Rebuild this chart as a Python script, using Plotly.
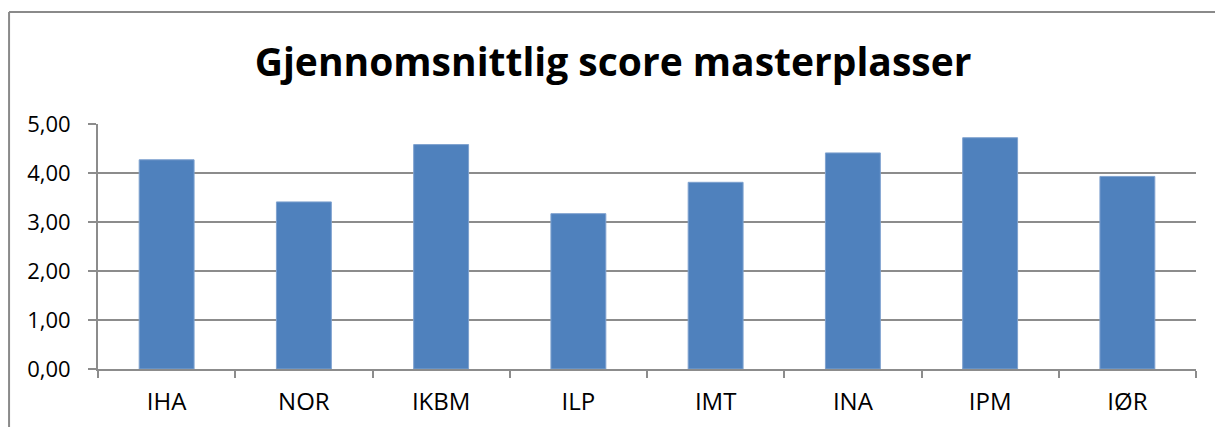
import plotly.graph_objects as go

# Kategorier og verdier lest av figuren
institutter = ["IHA", "NOR", "IKBM", "ILP", "IMT", "INA", "IPM", "IØR"]
score = [4.27, 3.41, 4.58, 3.17, 3.81, 4.41, 4.72, 3.93]
y_ticks = [0, 1, 2, 3, 4, 5]

FONT = "Open Sans"
GRID = "#8c8c8c"
BORDER = "#8a8a8a"

fig = go.Figure()
fig.add_trace(go.Bar(
    x=institutter,
    y=score,
    width=0.4,
    marker=dict(color="#4f81bd", line=dict(color="#7fa2cf", width=1)),
))

# siden har 8 px body-marg, derfor litt mindre figur
fig.update_layout(
    width=1215,
    height=419,
    paper_bgcolor="white",
    plot_bgcolor="white",
    separators=", ",
    showlegend=False,
    margin=dict(l=90, r=27, t=116, b=58),
    font=dict(family=FONT, color="black"),
    title=dict(
        text="<b>Gjennomsnittlig score masterplasser</b>",
        x=0.498, xref="container", xanchor="center",
        y=0.871, yref="container", yanchor="middle",
        font=dict(family=FONT, size=39, color="black"),
    ),
    # ramme rundt diagrammet (bare venstre og topp er synlig)
    shapes=[
        dict(type="line", xref="paper", yref="paper",
             x0=-0.081, x1=1.1, y0=1.457, y1=1.457,
             line=dict(color=BORDER, width=2)),
        dict(type="line", xref="paper", yref="paper",
             x0=-0.081, x1=-0.081, y0=-0.4, y1=1.457,
             line=dict(color=BORDER, width=2)),
    ],
)
fig.update_xaxes(
    tickson="boundaries", ticks="outside", ticklen=7, tickcolor=GRID, tickwidth=2,
    showline=True, linecolor=GRID, linewidth=2,
    tickfont=dict(family=FONT, size=24, color="black"),
    ticklabelstandoff=10,
    showgrid=False, automargin=False,
)
fig.update_yaxes(
    range=[0, 5], tickvals=y_ticks, tickformat=".2f",
    ticks="outside", ticklen=8, tickcolor=GRID, tickwidth=2,
    showline=True, linecolor=GRID, linewidth=2,
    showgrid=True, gridcolor=GRID, gridwidth=2,
    zeroline=False, automargin=False,
    tickfont=dict(family=FONT, size=22, color="black"),
    ticklabelstandoff=13,
)

fig.write_html("out.html")
